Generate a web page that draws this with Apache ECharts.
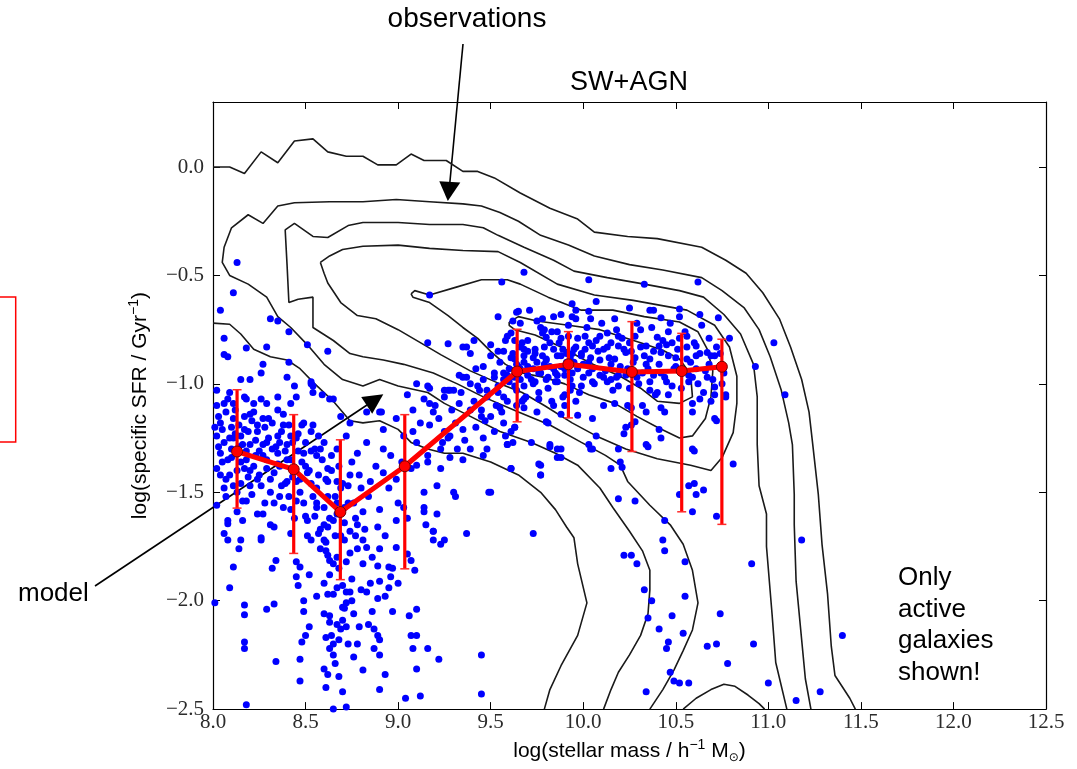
<!DOCTYPE html>
<html>
<head>
<meta charset="utf-8">
<title>SW+AGN: specific SFR vs stellar mass</title>
<script src="https://cdn.jsdelivr.net/npm/echarts@6/dist/echarts.min.js"></script>
<style>
  html, body { margin: 0; padding: 0; background: #ffffff; }
  #chart { width: 1077px; height: 769px; }
</style>
</head>
<body>
<div id="chart"></div>
<script>
// ---- axis ticks ----
const massTicks = [8.0, 8.5, 9.0, 9.5, 10.0, 10.5, 11.0, 11.5, 12.0, 12.5];
const ssfrTicks = [-2.5, -2.0, -1.5, -1.0, -0.5, 0.0];
const ssfrTop = 0.3;

// ---- model: median sSFR per mass bin with error range ----
const modelMass = [8.13, 8.436, 8.688, 9.036, 9.643, 9.92, 10.263, 10.532, 10.749];
const modelSSFR = [-1.312, -1.394, -1.591, -1.380, -0.943, -0.91, -0.945, -0.941, -0.921];
const modelLow  = [-1.573, -1.782, -1.903, -1.853, -1.175, -1.157, -1.312, -1.590, -1.648];
const modelHigh = [-1.027, -1.142, -1.258, -1.142, -0.748, -0.759, -0.713, -0.767, -0.794];

// ---- observed density contours (log M, log sSFR) ----
const contourOuterUpper = [[8.00,0.00],[8.09,0.00],[8.17,-0.03],[8.26,0.07],[8.35,0.02],[8.44,0.12],[8.54,0.13],[8.62,0.07],[8.72,0.05],[8.81,0.05],[8.89,0.01],[8.99,0.01],[9.07,0.06],[9.14,0.03],[9.26,0.03],[9.35,-0.02],[9.43,-0.02],[9.52,-0.05],[9.66,-0.12],[9.82,-0.19],[9.97,-0.24],[10.06,-0.30],[10.24,-0.32],[10.40,-0.33],[10.64,-0.37],[10.77,-0.43],[10.88,-0.49],[10.97,-0.58],[11.06,-0.70],[11.12,-0.83],[11.18,-0.98],[11.22,-1.13],[11.24,-1.28],[11.27,-1.51],[11.29,-1.74],[11.32,-1.97],[11.34,-2.21],[11.36,-2.345],[11.44,-2.45],[11.47,-2.50]];
const contourOuterLower = [[8.00,-0.72],[8.09,-0.725],[8.15,-0.77],[8.22,-0.84],[8.31,-0.875],[8.40,-0.89],[8.47,-0.93],[8.55,-1.00],[8.65,-1.08],[8.74,-1.17],[8.81,-1.18],[8.90,-1.17],[9.00,-1.21],[9.07,-1.27],[9.16,-1.30],[9.25,-1.32],[9.35,-1.32],[9.50,-1.36],[9.65,-1.42],[9.77,-1.50],[9.85,-1.58],[9.91,-1.66],[9.95,-1.71],[9.97,-1.83],[10.02,-2.01],[9.97,-2.16],[9.88,-2.30],[9.82,-2.41],[9.79,-2.50]];
const contourSecond = [[10.11,-2.50],[10.15,-2.41],[10.19,-2.33],[10.25,-2.25],[10.31,-2.16],[10.35,-2.06],[10.36,-1.95],[10.36,-1.86],[10.32,-1.77],[10.25,-1.68],[10.16,-1.57],[10.09,-1.48],[9.97,-1.375],[9.85,-1.32],[9.72,-1.27],[9.55,-1.22],[9.39,-1.15],[9.25,-1.09],[9.16,-1.04],[9.00,-1.01],[8.90,-0.98],[8.81,-1.01],[8.70,-0.98],[8.60,-0.91],[8.51,-0.82],[8.42,-0.74],[8.35,-0.69],[8.29,-0.60],[8.19,-0.54],[8.09,-0.50],[8.05,-0.44],[8.06,-0.37],[8.10,-0.28],[8.19,-0.22],[8.27,-0.26],[8.35,-0.18],[8.44,-0.165],[8.63,-0.16],[8.81,-0.16],[8.99,-0.15],[9.17,-0.16],[9.35,-0.17],[9.45,-0.18],[9.55,-0.21],[9.65,-0.25],[9.77,-0.315],[9.92,-0.36],[10.06,-0.41],[10.25,-0.45],[10.43,-0.475],[10.64,-0.51],[10.75,-0.57],[10.87,-0.65],[10.95,-0.75],[11.01,-0.875],[11.07,-1.03],[11.11,-1.18],[11.13,-1.28],[11.14,-1.51],[11.14,-1.65],[11.15,-1.91],[11.20,-2.36],[11.23,-2.50]];
const contourThird = [[10.36,-2.50],[10.43,-2.41],[10.49,-2.32],[10.54,-2.23],[10.59,-2.135],[10.62,-2.01],[10.59,-1.86],[10.54,-1.74],[10.47,-1.65],[10.36,-1.56],[10.24,-1.45],[10.20,-1.375],[10.12,-1.33],[9.99,-1.27],[9.82,-1.19],[9.65,-1.13],[9.46,-1.06],[9.32,-1.00],[9.19,-0.95],[9.03,-0.91],[8.92,-0.89],[8.81,-0.875],[8.74,-0.86],[8.65,-0.80],[8.54,-0.74],[8.54,-0.60],[8.46,-0.61],[8.41,-0.625],[8.40,-0.45],[8.39,-0.29],[8.44,-0.26],[8.54,-0.32],[8.62,-0.325],[8.73,-0.27],[8.81,-0.256],[9.00,-0.256],[9.17,-0.265],[9.35,-0.265],[9.46,-0.28],[9.54,-0.315],[9.68,-0.37],[9.84,-0.43],[9.95,-0.48],[10.13,-0.51],[10.33,-0.54],[10.52,-0.57],[10.65,-0.60],[10.76,-0.68],[10.85,-0.77],[10.92,-0.91],[10.94,-1.06],[10.94,-1.28],[10.95,-1.47],[10.99,-1.60],[10.99,-1.75],[11.02,-2.06],[11.04,-2.285],[11.10,-2.50]];
const contourFourth = [[8.58,-0.44],[8.63,-0.41],[8.70,-0.38],[8.81,-0.365],[9.00,-0.36],[9.17,-0.375],[9.35,-0.385],[9.54,-0.39],[9.66,-0.44],[9.86,-0.54],[10.06,-0.59],[10.27,-0.615],[10.56,-0.66],[10.71,-0.73],[10.79,-0.83],[10.83,-0.965],[10.83,-1.09],[10.81,-1.225],[10.75,-1.34],[10.69,-1.40],[10.58,-1.375],[10.40,-1.345],[10.23,-1.30],[10.07,-1.24],[9.94,-1.18],[9.79,-1.10],[9.67,-1.04],[9.55,-1.00],[9.39,-0.94],[9.23,-0.865],[9.12,-0.81],[9.00,-0.75],[8.88,-0.70],[8.78,-0.685],[8.69,-0.625],[8.62,-0.535],[8.60,-0.49],[8.58,-0.44]];
const contourFourthLow = [[10.54,-2.50],[10.61,-2.45],[10.69,-2.41],[10.76,-2.385],[10.82,-2.395],[10.89,-2.435],[10.95,-2.475],[10.98,-2.50]];
const contourFifth = [[9.07,-0.585],[9.09,-0.57],[9.17,-0.59],[9.31,-0.555],[9.45,-0.52],[9.59,-0.52],[9.66,-0.54],[9.81,-0.60],[9.99,-0.66],[10.16,-0.66],[10.33,-0.69],[10.52,-0.715],[10.62,-0.76],[10.67,-0.84],[10.70,-0.94],[10.69,-1.06],[10.66,-1.16],[10.59,-1.24],[10.52,-1.25],[10.40,-1.20],[10.29,-1.15],[10.17,-1.09],[10.03,-1.05],[9.90,-1.00],[9.79,-0.97],[9.67,-0.95],[9.58,-0.91],[9.50,-0.85],[9.43,-0.79],[9.35,-0.74],[9.27,-0.685],[9.17,-0.625],[9.08,-0.60],[9.07,-0.585]];
const contourSixth = [[9.60,-0.715],[9.65,-0.69],[9.75,-0.71],[9.92,-0.73],[10.09,-0.75],[10.31,-0.81],[10.43,-0.845],[10.52,-0.885],[10.58,-0.955],[10.59,-1.06],[10.52,-1.09],[10.40,-1.08],[10.31,-1.02],[10.20,-0.965],[10.04,-0.905],[9.88,-0.83],[9.74,-0.775],[9.63,-0.75],[9.60,-0.73],[9.60,-0.715]];

// ---- model galaxies (active only): [log M, log sSFR] ----
const activeGalaxies = [
  [8.13,-0.44],[8.11,-0.58],[8.04,-0.66],[8.31,-0.70],[8.35,-0.71],[8.06,-0.79],[8.06,-0.865],[8.08,-0.875],[8.18,-0.835],[8.29,-0.83],
  [8.41,-0.76],[8.41,-0.90],[8.27,-0.91],[8.53,-1.00],[8.54,-1.04],[8.59,-1.05],[8.65,-1.07],
  [9.54,-0.69],[9.64,-0.67],[9.66,-0.72],[9.62,-0.71],[9.75,-0.71],[9.79,-0.75],[8.51,-0.82],[8.62,-0.85],[9.16,-0.81],[9.41,-0.80],
  [9.35,-0.83],[9.50,-0.82],[9.54,-0.85],[9.63,-0.80],[9.66,-0.83],[9.70,-0.85],[9.73,-0.88],[9.79,-0.91],
  [8.15,-0.98],[8.20,-0.98],[8.26,-0.95],[8.40,-0.97],[8.53,-0.99],[8.54,-1.01],[8.44,-1.01],[8.09,-1.04],[8.17,-1.06],[8.02,-1.03],
  [9.10,-1.00],[9.16,-1.01],[9.25,-1.03],[9.28,-1.03],[9.35,-0.97],[9.39,-1.00],[9.46,-0.98],[9.52,-0.97],[9.57,-0.95],[9.64,-0.91],
  [9.73,-1.00],[9.81,-0.97],[9.54,-1.04],
  [8.02,-1.10],[8.08,-1.07],[8.11,-1.09],[8.18,-1.07],[8.22,-1.09],[8.26,-1.07],[8.29,-1.09],[8.35,-1.06],[8.42,-1.09],[8.45,-1.06],
  [8.49,-1.18],[8.54,-1.19],[8.63,-1.07],[8.69,-1.15],[8.74,-1.18],[8.83,-1.13],[8.90,-1.13],[8.92,-1.21],[8.99,-1.16],[9.08,-1.22],
  [9.17,-1.09],[9.19,-1.13],[9.25,-1.06],[9.39,-1.12],[9.45,-1.15],[9.48,-1.06],[9.50,-1.15],[9.64,-1.10],[9.68,-1.07],[9.75,-1.13],
  [9.81,-1.18],[8.27,-1.16],[8.17,-1.15],[8.04,-1.18],[8.11,-1.16],[8.22,-1.13],[8.35,-1.12],[8.38,-1.19],
  [8.02,-1.24],[8.06,-1.27],[8.11,-1.25],[8.15,-1.24],[8.20,-1.28],[8.24,-1.22],[8.29,-1.27],[8.35,-1.24],[8.40,-1.28],[8.45,-1.25],
  [8.49,-1.32],[8.53,-1.22],[8.56,-1.33],[8.60,-1.27],[8.67,-1.30],[8.72,-1.24],[8.78,-1.32],[8.83,-1.27],[8.92,-1.30],[8.96,-1.33],
  [9.03,-1.24],[9.10,-1.27],[9.16,-1.33],[9.23,-1.30],[9.28,-1.24],[9.35,-1.35],[9.39,-1.30],[9.46,-1.25],[9.61,-1.22],[9.72,-1.27],
  [8.04,-1.32],[8.08,-1.35],[8.13,-1.32],[8.18,-1.35],[8.27,-1.33],[8.35,-1.32],[8.42,-1.35],
  [8.02,-1.39],[8.09,-1.42],[8.17,-1.39],[8.24,-1.44],[8.29,-1.39],[8.36,-1.38],[8.45,-1.45],[8.51,-1.41],[8.56,-1.48],[8.62,-1.39],
  [8.67,-1.45],[8.74,-1.42],[8.80,-1.48],[8.85,-1.45],[8.92,-1.41],[8.99,-1.44],[9.07,-1.39],[9.14,-1.50],[9.21,-1.47],[9.30,-1.50],
  [9.50,-1.50],[9.61,-1.39],[9.77,-1.42],[8.06,-1.48],[8.13,-1.50],[8.20,-1.47],[8.31,-1.50],[8.40,-1.45],
  [8.02,-1.56],[8.08,-1.63],[8.13,-1.59],[8.18,-1.54],[8.24,-1.60],[8.31,-1.65],[8.38,-1.57],[8.45,-1.54],[8.51,-1.63],[8.56,-1.57],
  [8.62,-1.66],[8.67,-1.60],[8.74,-1.68],[8.81,-1.59],[8.89,-1.66],[8.99,-1.63],[9.03,-1.57],[9.14,-1.57],[9.19,-1.68],[9.25,-1.72],
  [8.06,-1.69],[8.15,-1.72],[8.26,-1.71],[8.42,-1.69],[8.53,-1.72],[8.60,-1.65],[8.71,-1.72],[8.78,-1.65],
  [8.08,-1.645],[8.16,-1.63],[8.08,-1.72],[8.26,-1.72],[8.33,-1.66],[8.14,-1.76],[8.11,-1.845],[8.09,-1.94],[8.17,-2.02],[8.17,-2.065],
  [8.01,-2.01],[8.29,-2.04],[8.33,-2.015],[8.34,-1.815],[8.32,-1.85],[8.17,-2.19],[8.17,-2.22],[8.34,-2.28],[8.18,-2.48],[8.45,-1.82],
  [8.47,-1.845],[8.45,-1.89],[8.46,-1.93],[8.49,-2.00],[8.49,-2.05],[8.48,-2.19],[8.50,-2.16],[8.47,-2.27],[8.47,-2.37],[8.60,-2.315],
  [8.61,-2.40],[8.68,-2.35],[8.65,-2.50],[8.72,-2.49],[8.57,-1.69],[8.60,-1.72],[8.61,-1.77],[8.62,-1.79],[8.63,-1.815],[8.65,-1.83],
  [8.60,-1.92],[8.62,-1.97],[8.65,-1.97],[8.67,-1.94],[8.72,-1.96],[8.74,-1.96],[8.70,-2.03],[8.72,-2.01],[8.75,-2.00],[8.71,-2.035],
  [8.60,-2.06],[8.63,-2.07],[8.63,-2.10],[8.67,-2.11],[8.70,-2.09],[8.72,-2.12],[8.69,-2.13],[8.61,-2.17],[8.64,-2.16],[8.65,-2.20],
  [8.63,-2.22],[8.65,-2.25],[8.68,-2.18],[8.73,-2.20],[8.78,-2.20],[8.76,-2.26],[8.84,-2.11],[8.79,-2.12],[8.87,-2.13],[8.89,-2.16],
  [8.90,-2.18],[8.87,-2.22],[8.90,-2.25],[8.93,-2.34],[8.90,-2.41],[8.81,-1.72],[8.83,-1.755],[8.90,-1.76],[8.89,-1.84],[8.95,-1.845],
  [8.96,-1.89],[8.90,-1.91],[8.83,-1.96],[8.89,-1.99],[8.95,-1.94],[9.00,-1.92],[8.99,-1.755],[9.05,-1.785],[9.07,-1.815],[9.09,-1.86],
  [9.10,-2.04],[9.06,-2.07],[9.07,-2.16],[9.10,-2.16],[9.08,-2.22],[9.10,-2.315],[9.04,-2.45],[9.12,-2.44],[9.16,-2.22],[9.22,-2.27],
  [9.19,-1.68],[9.19,-1.72],[9.23,-1.74],[9.15,-1.65],[9.37,-1.69],[9.73,-1.69],[9.45,-2.25],[9.45,-2.43],
  [9.65,-0.665],[9.94,-0.63],[10.03,-0.665],[10.04,-0.70],[9.84,-0.69],[9.78,-0.70],[9.77,-0.74],[9.94,-0.69],[9.96,-0.70],[10.17,-0.70],
  [10.25,-0.65],[10.36,-0.66],[10.38,-0.66],[10.52,-0.655],[10.52,-0.69],[10.63,-0.68],[10.73,-0.695],[10.42,-0.695],
  [9.59,-0.78],[9.61,-0.765],[9.67,-0.81],[9.68,-0.84],[9.78,-0.765],[9.80,-0.785],[9.86,-0.76],[9.88,-0.79],[9.92,-0.78],[10.01,-0.78],
  [10.03,-0.81],[10.09,-0.78],[10.13,-0.765],[10.19,-0.78],[10.25,-0.81],[10.28,-0.78],[10.31,-0.75],[10.40,-0.785],[10.46,-0.76],[10.48,-0.81],
  [10.52,-0.79],[10.56,-0.78],[10.61,-0.825],[10.67,-0.855],[10.71,-0.87],[10.79,-0.79],[10.41,-0.825],[10.34,-0.825],[10.19,-0.825],[10.15,-0.81],
  [9.57,-0.85],[9.63,-0.885],[9.68,-0.87],[9.74,-0.84],[9.80,-0.885],[9.84,-0.84],[9.88,-0.87],[9.94,-0.86],[9.99,-0.87],[10.05,-0.825],
  [10.11,-0.84],[10.17,-0.885],[10.23,-0.855],[10.28,-0.88],[10.36,-0.885],[10.42,-0.855],[10.46,-0.87],[10.56,-0.885],[10.61,-0.87],[10.69,-0.87],
  [9.59,-0.96],[9.65,-0.92],[9.70,-0.96],[9.76,-0.95],[9.82,-0.92],[9.86,-0.96],[9.90,-0.93],[9.97,-0.92],[10.03,-0.95],[10.09,-0.96],
  [10.15,-0.98],[10.19,-0.96],[10.23,-0.96],[10.32,-0.95],[10.38,-0.96],[10.44,-0.97],[10.50,-0.92],[10.57,-0.96],[10.61,-0.93],[10.67,-0.97],
  [9.57,-0.98],[9.63,-1.01],[9.68,-1.01],[9.74,-0.99],[9.80,-0.98],[9.86,-0.99],[9.94,-1.01],[9.99,-1.01],[10.05,-0.99],[10.13,-0.99],
  [10.19,-1.01],[10.25,-1.02],[10.36,-0.99],[10.40,-1.04],[10.46,-1.05],[10.57,-0.99],[10.63,-1.07],[10.71,-1.015],[10.71,-1.05],[10.77,-1.05],
  [9.55,-1.11],[9.59,-1.08],[9.67,-1.08],[9.68,-1.11],[9.76,-1.07],[9.84,-1.10],[9.90,-1.05],[9.96,-1.08],[10.11,-1.10],[10.17,-1.09],
  [10.26,-1.11],[10.32,-1.10],[10.42,-1.11],[10.44,-1.13],[10.59,-1.09],[10.69,-1.08],
  [9.63,-1.20],[9.80,-1.175],[9.88,-1.14],[9.97,-1.145],[10.05,-1.16],[10.23,-1.20],[10.28,-1.175],[10.34,-1.13],[10.71,-1.16],
  [9.59,-1.28],[9.82,-1.29],[9.86,-1.30],[9.86,-1.34],[10.03,-1.28],[10.05,-1.30],[10.07,-1.24],[10.19,-1.30],[10.34,-1.28],[10.42,-1.25],
  [10.59,-1.30],[10.81,-1.37],[9.76,-1.37],[9.61,-1.39],[9.77,-1.42],
  [10.15,-1.39],[10.21,-1.385],[10.19,-1.53],[10.28,-1.54],[10.52,-1.51],[10.57,-1.47],[10.60,-1.46],[10.61,-1.51],[10.65,-1.49],[10.59,-1.59],
  [10.72,-1.61],[10.44,-1.63],[10.43,-1.72],[10.93,-0.92],[11.03,-0.81],[11.09,-1.05],[11.18,-1.72],
  [10.44,-1.77],[10.22,-1.79],[10.26,-1.79],[10.29,-1.83],[10.55,-1.82],[10.91,-1.83],[10.33,-1.95],[10.37,-2.00],[10.35,-2.08],[10.55,-1.98],
  [10.48,-2.07],[10.41,-2.13],[10.54,-2.15],[10.46,-2.19],[10.45,-2.22],[10.74,-2.06],[10.67,-2.21],[10.72,-2.20],[10.92,-2.20],[10.78,-2.29],
  [10.47,-2.33],[10.49,-2.37],[10.52,-2.38],[10.57,-2.38],[10.34,-2.42],[11.00,-2.38],[11.15,-2.46],[11.28,-2.42],[11.40,-2.16],
  [10.60,-1.31],[10.41,-1.21],[10.35,-1.29],[10.72,-1.17],[10.77,-1.06],[10.59,-1.13],[10.26,-1.19],[10.22,-1.23],
  [9.68,-0.485],[9.56,-0.53],[9.17,-0.59],[10.03,-0.52],[10.33,-0.54],[10.62,-0.53],
  [8.91,-1.13],[9.17,-1.02],[9.27,-0.815],[9.37,-0.83],[9.39,-0.86],[9.37,-0.97],[9.43,-1.01],[9.48,-1.03],[9.54,-1.01],[9.27,-1.03],
  [9.30,-1.03],[9.34,-1.04],[9.45,-1.12],[9.52,-1.22],[9.57,-1.18],[9.63,-1.20],[9.17,-1.19],[9.25,-1.22],[9.27,-1.25],[9.35,-1.21],
  [9.46,-1.33],[9.48,-1.30],[9.59,-1.28],[9.10,-1.375],[9.16,-1.36],[9.23,-1.39],[9.28,-1.34],[9.32,-1.30],[9.77,-1.375],[9.31,-1.52],
  [9.49,-1.50],[9.14,-1.59],[9.21,-1.60],[9.62,-1.27],[9.82,-1.28],[9.88,-1.30],[9.88,-1.34],[10.04,-1.30],[10.20,-1.36],
  [8.03,-1.15],[8.05,-1.21],[8.07,-1.13],[8.10,-1.20],[8.12,-1.23],[8.14,-1.19],[8.16,-1.28],[8.19,-1.22],[8.21,-1.17],[8.23,-1.26],
  [8.25,-1.31],[8.28,-1.20],[8.30,-1.25],[8.32,-1.18],[8.34,-1.29],[8.37,-1.22],[8.39,-1.31],[8.41,-1.19],[8.43,-1.27],[8.46,-1.23],
  [8.48,-1.36],[8.50,-1.27],[8.52,-1.40],[8.55,-1.30],[8.57,-1.24],[8.59,-1.35],[8.61,-1.44],[8.64,-1.33],[8.66,-1.52],[8.68,-1.38],
  [8.70,-1.46],[8.73,-1.55],[8.75,-1.36],[8.77,-1.62],[8.05,-1.36],[8.07,-1.44],[8.10,-1.30],[8.13,-1.40],[8.15,-1.46],[8.19,-1.43],
  [8.22,-1.38],[8.26,-1.47],[8.28,-1.55],[8.33,-1.41],[8.36,-1.52],[8.39,-1.46],[8.42,-1.58],[8.44,-1.39],[8.47,-1.50],[8.50,-1.61],
  [8.53,-1.46],[8.56,-1.55],[8.58,-1.67],[8.62,-1.52],[8.65,-1.63],[8.69,-1.70],[8.71,-1.57],[8.74,-1.78],[8.77,-1.70],[8.81,-1.83],
  [8.58,-1.76],[8.63,-1.88],[8.67,-1.80],[8.70,-1.93],[8.56,-1.98],[8.76,-2.06],[8.66,-2.29],[8.62,-2.34],[8.70,-2.42],[8.81,-2.32],
  [8.85,-1.92],[8.93,-1.98],[8.97,-2.05],[8.86,-2.05],[8.52,-1.88],[8.52,-2.12],
  [9.62,-0.86],[9.66,-0.93],[9.70,-0.80],[9.72,-0.98],[9.75,-0.90],[9.79,-0.83],[9.81,-1.02],[9.83,-0.76],[9.85,-0.95],[9.87,-0.81],
  [9.89,-1.06],[9.91,-0.90],[9.92,-0.73],[9.93,-0.98],[9.95,-0.84],[9.97,-0.79],[9.98,-1.04],[10.00,-0.91],[10.02,-0.74],[10.04,-0.88],
  [10.06,-1.00],[10.08,-0.85],[10.10,-0.72],[10.12,-0.94],[10.14,-0.88],[10.16,-1.03],[10.18,-0.75],[10.20,-0.92],[10.22,-0.84],[10.24,-1.10],
  [10.27,-0.90],[10.29,-0.72],[10.30,-1.00],[10.33,-0.87],[10.35,-0.93],[10.37,-0.74],[10.39,-1.05],[10.41,-0.91],[10.43,-0.80],[10.45,-0.99],
  [10.47,-0.72],[10.49,-0.93],[10.51,-0.84],[10.53,-1.02],[10.55,-0.76],[10.58,-0.90],[10.60,-0.81],[10.62,-1.00],[10.64,-0.73],[10.66,-0.94],
  [10.68,-0.79],[10.70,-0.98],[10.74,-0.86],[10.76,-0.95],[9.96,-0.66],[10.07,-0.62],[9.88,-0.68],[9.71,-0.66],[9.60,-0.93],[9.64,-1.03],
  [9.58,-0.80],[9.61,-0.88],[9.55,-0.90],[9.50,-0.87],[9.46,-0.92],[9.63,-0.97],[9.68,-0.90],[9.52,-0.95],
  [8.01,-1.20],[8.03,-1.29],[8.04,-1.42],[8.06,-1.09],[8.07,-1.52],[8.09,-1.25],[8.10,-1.34],[8.11,-1.47],[8.12,-1.12],[8.14,-1.29],
  [8.15,-1.36],[8.16,-1.54],[8.17,-1.21],[8.18,-1.31],[8.20,-1.40],[8.20,-1.14],[8.21,-1.51],[8.23,-1.33],[8.24,-1.19],[8.25,-1.42],
  [8.27,-1.28],[8.27,-1.60],[8.29,-1.35],[8.30,-1.16],[8.31,-1.44],[8.32,-1.30],[8.33,-1.55],[8.35,-1.37],[8.36,-1.27],[8.37,-1.47],
  [8.38,-1.14],[8.40,-1.35],[8.41,-1.52],[8.42,-1.24],[8.43,-1.43],[8.44,-1.62],[8.46,-1.31],[8.47,-1.44],[8.48,-1.19],[8.49,-1.55],
  [8.50,-1.38],[8.51,-1.70],[8.53,-1.31],[8.54,-1.52],[8.55,-1.61],[8.57,-1.42],[8.58,-1.30],[8.60,-1.57],[8.61,-1.73],[8.62,-1.45],
  [8.63,-1.62],[8.64,-1.40],[8.66,-1.70],[8.67,-1.55],[8.68,-1.85],[8.69,-1.48],[8.71,-1.64],[8.72,-1.82],[8.73,-1.47],[8.75,-1.90],
  [8.76,-1.55],[8.78,-1.76],[8.79,-1.42],[8.80,-1.95],[8.82,-1.67],[8.84,-1.52],[8.86,-1.80],[8.88,-1.38],[8.90,-1.58],[8.93,-1.70],
  [8.95,-1.48],[8.97,-1.85],[9.00,-1.55],[9.02,-1.36],[9.05,-1.62],
  [9.70,-0.92],[9.74,-0.86],[9.77,-0.95],[9.80,-0.89],[9.82,-0.81],[9.84,-0.93],[9.86,-0.87],[9.88,-0.92],[9.89,-0.84],[9.90,-0.96],
  [9.91,-0.86],[9.92,-0.92],[9.93,-0.88],[9.94,-0.95],[9.95,-0.90],[9.96,-0.83],[9.97,-0.93],[9.99,-0.86],[10.00,-0.97],[10.01,-0.84],
  [10.03,-0.90],[10.05,-0.93],[10.07,-0.80],[10.09,-0.89],[10.11,-0.97],[10.13,-0.83],[10.15,-0.91],[10.18,-0.97],[10.21,-0.79],[10.24,-0.93],
  [10.26,-0.85],[10.29,-0.97],[10.31,-0.83],[10.34,-0.91],[10.36,-1.03],[10.38,-0.85],[10.42,-0.95],[10.45,-0.82],[10.48,-1.01],[10.50,-0.88],
  [10.53,-0.95],[10.56,-0.83],[10.59,-0.97],[10.63,-0.86],[10.65,-1.04],[10.68,-0.91],[10.72,-0.83],[10.75,-1.00],[9.66,-0.98],[9.69,-1.06],
  [9.73,-0.93],[9.76,-1.04],[9.78,-0.87],[9.83,-1.08],[9.85,-0.99],[9.90,-1.10],[9.93,-1.03],[9.60,-0.99],[9.57,-1.06],
  [9.05,-1.05],[9.08,-1.12],[9.12,-1.18],[9.14,-1.07],[9.20,-1.10],[9.22,-1.16],[9.24,-1.27],[9.29,-1.12],[9.31,-1.18],[9.33,-1.09],
  [9.36,-1.26],[9.41,-1.08],[9.42,-1.20],[9.44,-1.03],[9.47,-1.17],[9.53,-1.10],[9.56,-1.13],[9.58,-1.24],[9.42,-0.93],[9.33,-0.96]
];

// ---- helpers ----
const fmtTick = v => {
  const r = Math.round(v * 10) / 10;
  return (r < 0 ? '\u2212' : '') + Math.abs(r).toFixed(1);
};
const onTick = (ticks, v) => ticks.some(t => Math.abs(t - v) < 1e-6);
const pairs = (xs, ys) => xs.map((x, i) => [x, ys[i]]);

const frameLine = { show: true, onZero: false, lineStyle: { color: '#000', width: 1.2 } };
const frameTick = { show: true, inside: true, length: 7, lineStyle: { color: '#000', width: 1 } };
const tickFont = { fontFamily: 'Liberation Serif', fontSize: 21, color: '#2b2b2b' };
const sansFont = 'Liberation Sans';

const massRange = { min: massTicks[0], max: massTicks[massTicks.length - 1], interval: 0.5 };
const ssfrRange = { min: ssfrTicks[0], max: ssfrTop, interval: 0.5 };

const contours = [contourOuterUpper, contourOuterLower, contourSecond, contourThird,
                  contourFourth, contourFourthLow, contourFifth, contourSixth];

const chart = echarts.init(document.getElementById('chart'), null, { renderer: 'canvas' });

chart.setOption({
  animation: false,
  backgroundColor: '#ffffff',
  title: {
    text: 'SW+AGN',
    left: 629, top: 69, padding: 0,
    textAlign: 'center',
    textStyle: { fontFamily: sansFont, fontSize: 27, fontWeight: 'normal', color: '#000' }
  },
  grid: { left: 213, right: 31, top: 102, bottom: 52, containLabel: false },
  xAxis: [
    Object.assign({
      type: 'value', position: 'bottom',
      axisLine: frameLine, axisTick: frameTick, splitLine: { show: false },
      axisLabel: Object.assign({ margin: 3, formatter: v => onTick(massTicks, v) ? fmtTick(v) : '' }, tickFont),
      name: '{t|log(stellar mass / h}{s|\u22121}{t| M}{o|\u2299}{t|)}',
      nameLocation: 'middle', nameGap: 15,
      nameTextStyle: {
        fontFamily: sansFont, fontSize: 21, color: '#000',
        rich: {
          t: { fontFamily: sansFont, fontSize: 21, lineHeight: 26, color: '#000' },
          s: { fontFamily: sansFont, fontSize: 14, lineHeight: 26, verticalAlign: 'top', color: '#000' },
          o: { fontFamily: 'DejaVu Sans', fontSize: 12, lineHeight: 12, verticalAlign: 'bottom', color: '#000' }
        }
      }
    }, massRange),
    Object.assign({
      type: 'value', position: 'top',
      axisLine: frameLine, axisTick: frameTick, splitLine: { show: false },
      axisLabel: { show: false }
    }, massRange)
  ],
  yAxis: [
    Object.assign({
      type: 'value', position: 'left',
      axisLine: frameLine, axisTick: frameTick, splitLine: { show: false },
      axisLabel: Object.assign({ margin: 9, showMaxLabel: false,
        formatter: v => onTick(ssfrTicks, v) ? fmtTick(v) : '' }, tickFont),
      name: '{t|log(specific SFR / Gyr}{s|\u22121}{t|)}',
      nameLocation: 'middle', nameRotate: 90, nameGap: 60,
      nameTextStyle: {
        fontFamily: sansFont, fontSize: 21, color: '#000',
        rich: {
          t: { fontFamily: sansFont, fontSize: 21, lineHeight: 26, color: '#000' },
          s: { fontFamily: sansFont, fontSize: 14, lineHeight: 26, verticalAlign: 'top', color: '#000' }
        }
      }
    }, ssfrRange),
    Object.assign({
      type: 'value', position: 'right',
      axisLine: frameLine, axisTick: frameTick, splitLine: { show: false },
      axisLabel: { show: false }
    }, ssfrRange)
  ],
  series: [
    ...contours.map(c => ({
      type: 'line', data: c, xAxisIndex: 0, yAxisIndex: 0,
      showSymbol: false, symbol: 'none', smooth: false, silent: true, z: 2,
      lineStyle: { color: '#1a1a1a', width: 1.6 }
    })),
    {
      type: 'scatter', data: activeGalaxies, xAxisIndex: 0, yAxisIndex: 0,
      symbol: 'circle', symbolSize: 7, silent: true, z: 3,
      itemStyle: { color: '#0000ff', opacity: 1 }
    },
    {
      type: 'custom', xAxisIndex: 0, yAxisIndex: 0, z: 4, silent: true,
      data: modelMass.map((m, i) => [m, modelLow[i], modelHigh[i]]),
      encode: { x: 0, y: [1, 2] },
      renderItem: function (params, api) {
        const x = api.value(0);
        const hi = api.coord([x, api.value(2)]);
        const lo = api.coord([x, api.value(1)]);
        const cap = 4.5;
        return {
          type: 'group',
          children: [
            { type: 'line', shape: { x1: hi[0], y1: hi[1], x2: lo[0], y2: lo[1] },
              style: { stroke: '#ff0000', lineWidth: 3.2 } },
            { type: 'line', shape: { x1: hi[0] - cap, y1: hi[1], x2: hi[0] + cap, y2: hi[1] },
              style: { stroke: '#ff2a2a', lineWidth: 1.5 } },
            { type: 'line', shape: { x1: lo[0] - cap, y1: lo[1], x2: lo[0] + cap, y2: lo[1] },
              style: { stroke: '#ff2a2a', lineWidth: 1.5 } }
          ]
        };
      }
    },
    {
      type: 'line', data: pairs(modelMass, modelSSFR), xAxisIndex: 0, yAxisIndex: 0,
      z: 5, silent: true, smooth: false,
      symbol: 'circle', symbolSize: 11, showSymbol: true,
      lineStyle: { color: '#ff0000', width: 5 },
      itemStyle: { color: '#ff0000', borderColor: '#7a0000', borderWidth: 1 }
    }
  ],
  graphic: [
    { type: 'text', silent: true, style: { text: 'observations', x: 467, y: 19,
      font: '28px "Liberation Sans"', fill: '#000', textAlign: 'center', textVerticalAlign: 'middle' } },
    { type: 'line', silent: true, shape: { x1: 463, y1: 44, x2: 449.8, y2: 183 },
      style: { stroke: '#000', lineWidth: 1.6 } },
    { type: 'polygon', silent: true, shape: { points: [[447.8, 201], [460.3, 182.5], [439.3, 181.2]] },
      style: { fill: '#000' } },
    { type: 'text', silent: true, style: { text: 'model', x: 18, y: 594,
      font: '26px "Liberation Sans"', fill: '#000', textAlign: 'left', textVerticalAlign: 'middle' } },
    { type: 'line', silent: true, shape: { x1: 95, y1: 586, x2: 367, y2: 405 },
      style: { stroke: '#000', lineWidth: 1.6 } },
    { type: 'polygon', silent: true, shape: { points: [[383.3, 394.3], [372.2, 413.7], [361.2, 397.1]] },
      style: { fill: '#000' } },
    { type: 'text', silent: true, style: { text: 'Only\nactive\ngalaxies\nshown!', x: 898, y: 562,
      font: '26px "Liberation Sans"', lineHeight: 31.7, fill: '#000', textAlign: 'left', textVerticalAlign: 'top' } },
    { type: 'rect', silent: true, shape: { x: -2, y: 297, width: 17.7, height: 145 },
      style: { fill: 'none', stroke: '#ff0000', lineWidth: 1.5 } }
  ]
});
</script>
</body>
</html>
